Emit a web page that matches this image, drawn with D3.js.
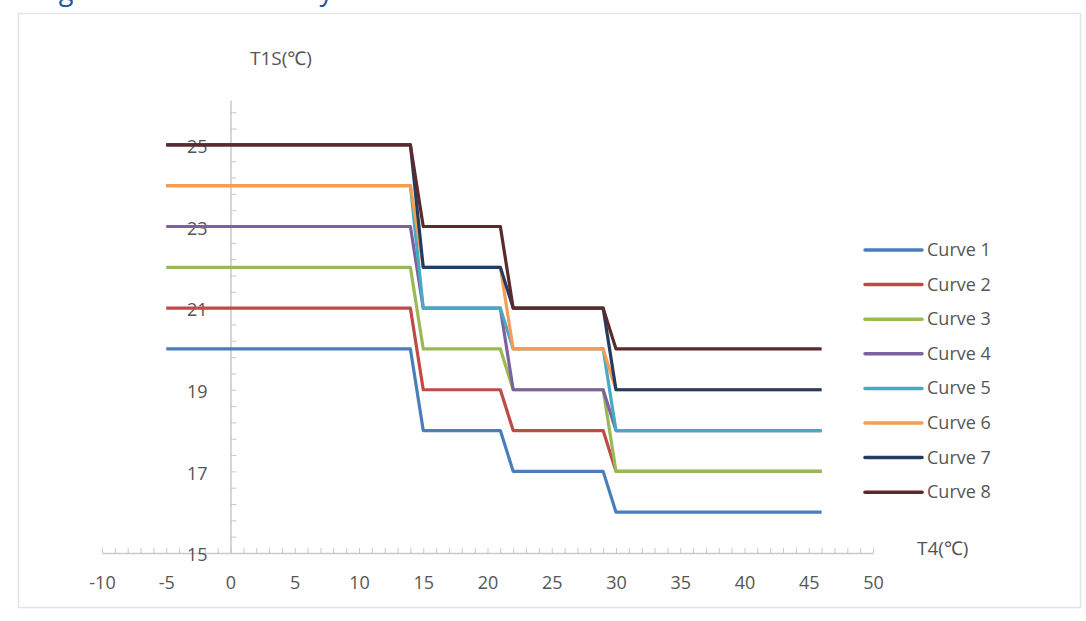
<!DOCTYPE html>
<html>
<head>
<meta charset="utf-8">
<script src="https://cdn.jsdelivr.net/npm/d3@7"></script>
<style>
  body { margin: 0; background: #fff; }
  svg { display: block; font-family: 'Open Sans', 'Noto Sans', sans-serif; }
</style>
</head>
<body>
<div id="chart"></div>
<script>
// T4 breakpoints shared by every curve (start, step edges, end)
const t4Points = [-5, 14, 15, 21, 22, 29, 30, 46];

// T1S level of each curve for the four T4 ranges
const curveNames = ['Curve 1', 'Curve 2', 'Curve 3', 'Curve 4', 'Curve 5', 'Curve 6', 'Curve 7', 'Curve 8'];
const curve1 = [20, 18, 17, 16];
const curve2 = [21, 19, 18, 17];
const curve3 = [22, 20, 19, 17];
const curve4 = [23, 21, 19, 18];
const curve5 = [24, 21, 20, 18];
const curve6 = [24, 22, 20, 19];
const curve7 = [25, 22, 21, 19];
const curve8 = [25, 23, 21, 20];
const curveLevels = [curve1, curve2, curve3, curve4, curve5, curve6, curve7, curve8];
const curveColors = ['#4a7ebb', '#be4b48', '#98b954', '#7d60a0', '#46aac5', '#f59d56', '#253b62', '#5b2a2c'];

const xTickLabels = [-10, -5, 0, 5, 10, 15, 20, 25, 30, 35, 40, 45, 50];
const yTickLabels = [15, 17, 19, 21, 23, 25];

const cfg = {
  width: 1086,
  height: 621,
  xLeft: 102, xRight: 873,
  yBottom: 553, yTop: 100,
  axisColor: '#c9c9c9',
  textColor: '#555555'
};

const svg = d3.select('#chart').append('svg')
  .attr('width', cfg.width)
  .attr('height', cfg.height);

// caption above the panel, mostly outside the window as in the source
svg.append('text')
  .attr('x', 38)
  .attr('y', 0)
  .attr('fill', '#1f5597')
  .attr('font-size', 27)
  .text('Fig. 10 Curves of T1S by T4 for cool mode');

// panel border
svg.append('rect')
  .attr('x', 18.5).attr('y', 13.5)
  .attr('width', 1062).attr('height', 594)
  .attr('fill', 'none')
  .attr('stroke', '#e4e4e4')
  .attr('stroke-width', 1.5);

const x = d3.scaleLinear().domain([-10, 50]).range([cfg.xLeft, cfg.xRight]);
const y = d3.scaleLinear().domain([15, 26.1]).range([cfg.yBottom, cfg.yTop]);

// x axis: minor ticks every 1 pointing up
const xAxis = svg.append('g')
  .attr('transform', `translate(0,${cfg.yBottom})`)
  .call(d3.axisTop(x).tickValues(d3.range(-10, 51, 1)).tickSize(5).tickFormat('').tickSizeOuter(0));
xAxis.select('.domain').attr('stroke', cfg.axisColor).attr('stroke-width', 1.5);
xAxis.selectAll('.tick line').attr('stroke', cfg.axisColor);

svg.append('g')
  .attr('transform', `translate(0,${cfg.yBottom})`)
  .call(d3.axisBottom(x).tickValues(xTickLabels).tickSize(0).tickPadding(23).tickFormat(d => String(d)))
  .call(g => g.select('.domain').remove())
  .selectAll('text')
  .attr('font-size', 18)
  .attr('font-family', "'Open Sans', sans-serif")
  .attr('fill', cfg.textColor);

// y axis: minor ticks every 0.4 pointing right
const yAxis = svg.append('g')
  .attr('transform', `translate(${x(0)},0)`)
  .call(d3.axisRight(y).tickValues(d3.range(0, 28).map(i => 15 + i * 0.4)).tickSize(6).tickFormat('').tickSizeOuter(0));
yAxis.select('.domain').attr('stroke', cfg.axisColor).attr('stroke-width', 1.5);
yAxis.selectAll('.tick line').attr('stroke', cfg.axisColor);

svg.append('g')
  .attr('transform', `translate(${x(0)},2)`)
  .call(d3.axisLeft(y).tickValues(yTickLabels).tickSize(0).tickPadding(23))
  .call(g => g.select('.domain').remove())
  .selectAll('text')
  .attr('font-size', 18)
  .attr('font-family', "'Open Sans', sans-serif")
  .attr('fill', cfg.textColor);

// axis titles
svg.append('text')
  .attr('x', 250).attr('y', 65)
  .attr('font-size', 19)
  .attr('fill', cfg.textColor)
  .text('T1S(℃)');

svg.append('text')
  .attr('x', 917).attr('y', 555)
  .attr('font-size', 19)
  .attr('fill', cfg.textColor)
  .text('T4(℃)');

// curves
const line = d3.line().x(d => x(d[0])).y(d => y(d[1]));
curveLevels.forEach((levels, i) => {
  const pts = t4Points.map((t, j) => [t, levels[Math.floor(j / 2)]]);
  svg.append('path')
    .datum(pts)
    .attr('d', line)
    .attr('fill', 'none')
    .attr('stroke', curveColors[i])
    .attr('stroke-width', 3.2)
    .attr('stroke-linejoin', 'round');
});

// legend
const legend = svg.append('g').attr('transform', 'translate(865,250)');
curveNames.forEach((name, i) => {
  const row = legend.append('g').attr('transform', `translate(0,${i * 34.6})`);
  row.append('line')
    .attr('x1', 0).attr('x2', 57)
    .attr('stroke', curveColors[i])
    .attr('stroke-width', 3.5)
    .attr('stroke-linecap', 'round');
  row.append('text')
    .attr('x', 62).attr('y', 6)
    .attr('font-size', 18)
    .attr('fill', cfg.textColor)
    .text(name);
});
</script>
</body>
</html>
